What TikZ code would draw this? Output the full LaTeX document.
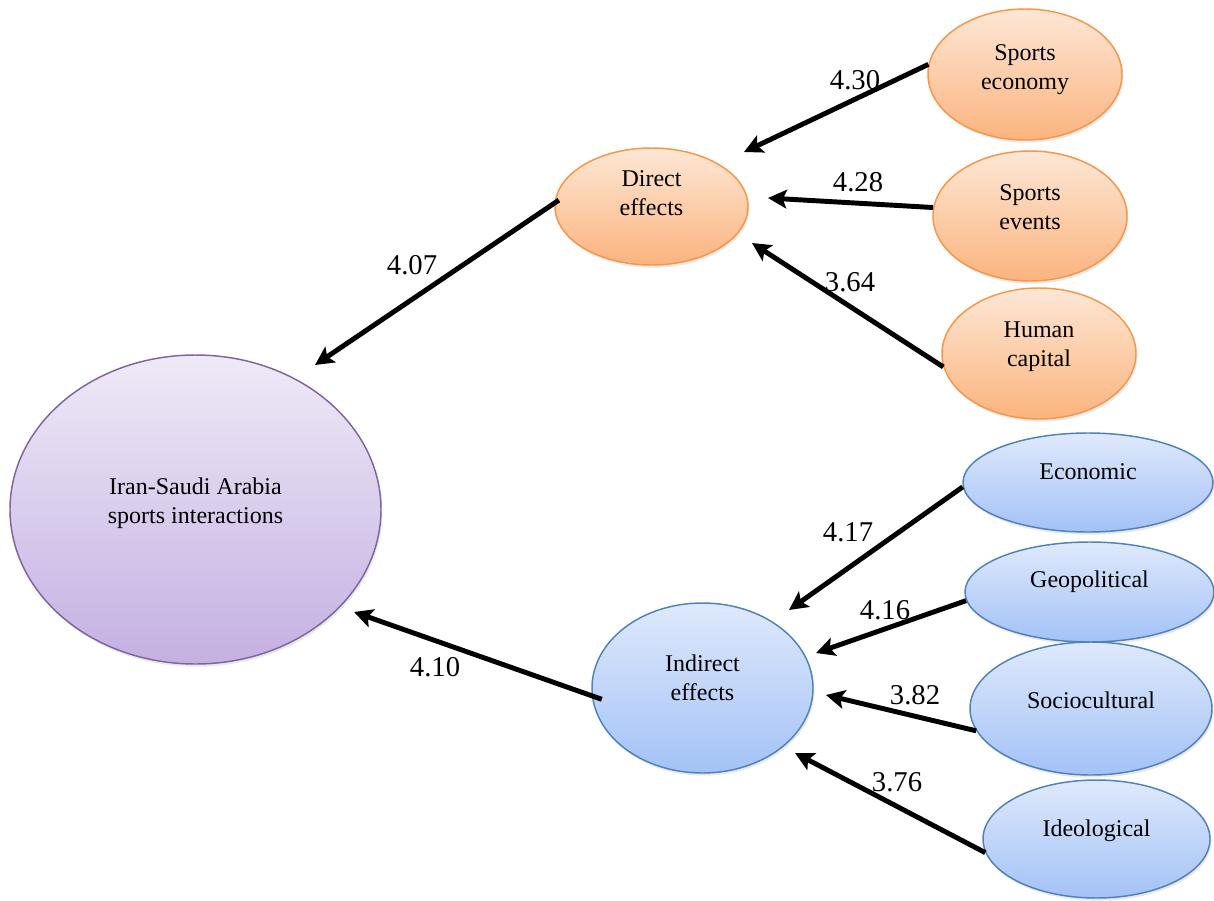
\documentclass[tikz,border=0pt]{standalone}
\usepackage{fontspec}
\setmainfont{Liberation Serif}
\usetikzlibrary{arrows.meta,shapes.geometric,shadows}
\definecolor{orB}{HTML}{F79646}
\definecolor{orT}{HTML}{FDE7D6}
\definecolor{orBt}{HTML}{FBB47E}
\definecolor{blB}{HTML}{4F81BD}
\definecolor{blT}{HTML}{DFE9FC}
\definecolor{blBt}{HTML}{A3C2F6}
\definecolor{puB}{HTML}{8064A2}
\definecolor{puT}{HTML}{EFEAF7}
\definecolor{puBt}{HTML}{C4B0E2}
\tikzset{
  ell/.style={ellipse, inner sep=0pt, line width=1.1pt,
    drop shadow={shadow xshift=1pt, shadow yshift=-2pt, opacity=0.18}},
  oell/.style={ell, draw=orB, top color=orT, bottom color=orBt},
  bell/.style={ell, draw=blB, top color=blT, bottom color=blBt},
  pell/.style={ell, draw=puB, top color=puT, bottom color=puBt},
  esz/.style 2 args={minimum width=#1*0.75pt, minimum height=#2*0.75pt},
  etxt/.style={font=\fontsize{18}{21.75}\selectfont, align=center, inner sep=0pt},
  num/.style={font=\fontsize{21.5}{25}\selectfont, inner sep=0pt},
  arr/.style={line width=3.7pt, -{Stealth[length=14pt,width=14pt,inset=3pt]}}
}
\begin{document}
\begin{tikzpicture}[x=0.75pt,y=-0.75pt]
\useasboundingbox (0,0) rectangle (1214,900);
% main nodes
\node[pell,esz={371}{309},label={[etxt,yshift=5pt]center:{Iran-Saudi Arabia\\sports interactions}}] (isa) at (195.5,509.5) {};
\node[oell,esz={193}{117},label={[etxt,yshift=10pt]center:{Direct\\effects}}] (de) at (651.5,206.5) {};
\node[bell,esz={221}{170},label={[etxt,yshift=8pt]center:{Indirect\\effects}}] (ind) at (702.5,688) {};
% direct factors
\node[oell,esz={194}{131},label={[etxt,yshift=4pt]center:{Sports\\economy}}] (se) at (1025,74.5) {};
\node[oell,esz={194}{130},label={[etxt,yshift=6.4pt]center:{Sports\\events}}] (sev) at (1030,216) {};
\node[oell,esz={194}{131},label={[etxt,yshift=5pt]center:{Human\\capital}}] (hc) at (1039,353.5) {};
% indirect factors
\node[bell,esz={250}{99},label={[etxt,yshift=8pt]center:{Economic}}] (eco) at (1088,482.5) {};
\node[bell,esz={249}{100},label={[etxt,yshift=7.5pt]center:{Geopolitical}}] (geo) at (1089.5,592) {};
\node[bell,esz={242}{133},label={[etxt,yshift=6.4pt]center:{Sociocultural}}] (soc) at (1091,708.5) {};
\node[bell,esz={227}{118},label={[etxt,yshift=6pt]center:{Ideological}}] (ideo) at (1096.5,839) {};
% free arrow ends
\coordinate (t1) at (315,365);
\coordinate (t2) at (354,612);
\coordinate (t3) at (744,152);
\coordinate (t4) at (768,198);
\coordinate (t5) at (752,243);
\coordinate (t6) at (789,610);
\coordinate (t7) at (816,653);
\coordinate (t8) at (826,695);
\coordinate (t9) at (795,753);
% connectors
\draw[arr, shorten <=-4pt] (de.178) -- (t1);
\draw[arr, shorten <=-8pt] (ind.184.7) -- (t2);
\draw[arr] (se.174.4) -- (t3);
\draw[arr] (sev.175.3) -- (t4);
\draw[arr] (hc.188.7) -- (t5);
\draw[arr] (eco.182) -- (t6);
\draw[arr] (geo.184.5) -- (t7);
\draw[arr] (soc.191.7) -- (t8);
\draw[arr] (ideo.187) -- (t9);
% labels
\node[num] (l1) at (412,265) {4.07};
\node[num] (l2) at (435,667) {4.10};
\node[num] (l3) at (855,80) {4.30};
\node[num] (l4) at (858,182) {4.28};
\node[num] (l5) at (850,282) {3.64};
\node[num] (l6) at (848,532) {4.17};
\node[num] (l7) at (885,610) {4.16};
\node[num] (l8) at (915,695) {3.82};
\node[num] (l9) at (897,782) {3.76};
\end{tikzpicture}
\end{document}
